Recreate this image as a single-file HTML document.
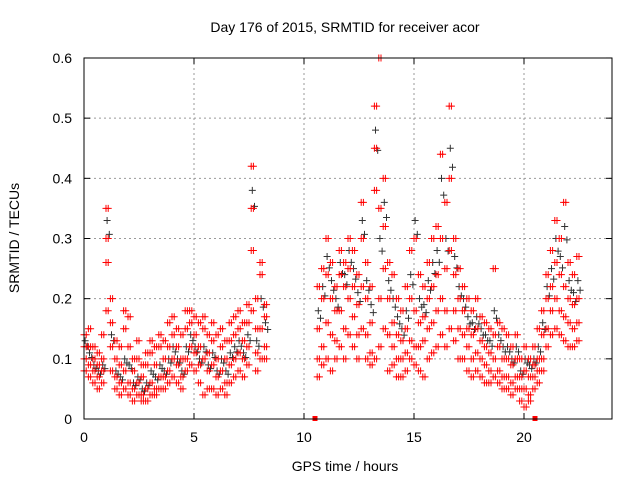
<!DOCTYPE html>
<html><head><meta charset="utf-8"><style>
body{margin:0;background:#fff;}
svg{display:block;font-family:"Liberation Sans",sans-serif;}
</style></head><body>
<svg id="chart" width="640" height="480" viewBox="0 0 640 480">
<rect width="640" height="480" fill="#fff"/>
<text x="345" y="32" font-size="14" text-anchor="middle">Day 176 of 2015, SRMTID for receiver acor</text>
<text x="345" y="471" font-size="14" text-anchor="middle">GPS time / hours</text>
<text x="19" y="238" font-size="14" text-anchor="middle" transform="rotate(-90 19 238)">SRMTID / TECUs</text>
<g id="grid"></g><g id="ticks"></g><g id="marks"></g>
<rect x="84" y="58" width="528" height="361" fill="none" stroke="#000" stroke-width="1"/>
</svg>
<script>
const xTicks=[0,5,10,15,20];
const yTicks=[0,0.1,0.2,0.3,0.4,0.5,0.6];
const yTickLabels=["0","0.1","0.2","0.3","0.4","0.5","0.6"];
const hours1Start=0, hours2Start=10.6, stepH=0.2;
const redA=[.14,.12,.10,.09,.10,.30,.20,.10,.09,.15,.12,.08,.10,.07,.09,.11,.09,.12,.10,.12,.14,.12,.10,.15,.16,.14,.12,.15,.11,.13,.10,.12,.10,.13,.14,.15,.13,.16,.35,.15,.26,.17,
 .22,.25,.30,.26,.22,.28,.26,.30,.28,.24,.36,.26,.22,.52,.60,.40,.26,.24,.20,.18,.22,.28,.30,.24,.22,.26,.30,.32,.44,.36,.52,.30,.25,.22,.20,.18,.20,.17,.16,.15,.25,.16,.15,.14,.12,.14,.10,.12,.10,.12,.15,.18,.24,.28,.33,.30,.36,.26,.24,.27];
const redB=[.10,.09,.08,.07,.08,.35,.12,.07,.06,.08,.06,.05,.06,.04,.05,.06,.05,.07,.07,.08,.10,.09,.07,.10,.12,.11,.09,.10,.08,.09,.07,.08,.06,.09,.10,.11,.10,.12,.42,.11,.15,.12,
 .15,.20,.24,.20,.18,.24,.22,.25,.22,.19,.30,.20,.16,.45,.35,.32,.20,.16,.14,.13,.15,.20,.18,.16,.17,.20,.22,.24,.30,.25,.40,.24,.20,.18,.15,.14,.15,.13,.12,.11,.14,.12,.10,.10,.09,.10,.07,.08,.07,.09,.10,.14,.20,.22,.26,.24,.22,.20,.19,.20];
const redC=[.08,.07,.06,.05,.06,.26,.08,.05,.04,.05,.04,.03,.04,.03,.03,.04,.04,.05,.05,.06,.07,.06,.05,.08,.09,.08,.06,.04,.05,.05,.04,.05,.04,.06,.07,.08,.07,.09,.28,.08,.10,.10,
 .10,.12,.16,.14,.13,.18,.15,.20,.17,.14,.22,.14,.11,.38,.20,.25,.14,.12,.10,.10,.11,.13,.12,.12,.13,.15,.16,.18,.20,.18,.28,.18,.15,.14,.12,.10,.11,.10,.09,.08,.10,.08,.07,.07,.06,.07,.05,.05,.04,.07,.08,.10,.15,.18,.20,.18,.17,.16,.15,.16];
const redD=[.12,.15,.12,.11,.14,.18,.16,.13,.12,.18,.17,.10,.13,.09,.11,.13,.12,.14,.13,.16,.17,.15,.14,.18,.18,.17,.16,.17,.14,.16,.14,.15,.13,.16,.17,.18,.16,.19,.18,.20,.24,.19,
 .07,.09,.10,.08,.10,.12,.10,.14,.12,.10,.15,.10,.09,.10,.12,.15,.08,.09,.07,.07,.08,.10,.09,.08,.07,.10,.11,.12,.14,.12,.15,.13,.10,.10,.08,.07,.08,.07,.06,.06,.07,.06,.05,.05,.04,.05,.03,.02,.03,.05,.06,.08,.12,.14,.15,.14,.13,.12,.12,.13];
const greyA=[.13,.11,.09,.08,.09,.33,.14,.08,.07,.10,.09,.06,.07,.05,.06,.08,.07,.09,.08,.10,.12,.10,.08,.12,.14,.12,.10,.12,.09,.11,.08,.10,.08,.11,.12,.13,.11,.14,.38,.13,.20,.16,
 .18,.22,.27,.23,.20,.26,.24,.28,.25,.21,.33,.23,.19,.48,.30,.36,.23,.20,.17,.15,.18,.24,.33,.20,.19,.23,.26,.28,.40,.30,.45,.27,.22,.20,.17,.16,.17,.15,.14,.13,.18,.14,.12,.12,.10,.12,.08,.10,.09,.10,.12,.16,.22,.25,.30,.27,.32,.23,.21,.23];
const gapMarkers=[10.5,20.5];

const X=h=>84+h*22, Y=v=>419-v*601.7;
const NS="http://www.w3.org/2000/svg";
const grid=document.getElementById('grid'),ticks=document.getElementById('ticks'),marks=document.getElementById('marks');
function mk(tag,attrs,parent){const e=document.createElementNS(NS,tag);for(const k in attrs)e.setAttribute(k,attrs[k]);parent.appendChild(e);return e;}
xTicks.forEach(t=>{
 if(t>0){const g=mk('line',{x1:X(t),x2:X(t),y1:58,y2:419,stroke:'#999','stroke-dasharray':'2,3'},grid);
 
 }
 mk('line',{x1:X(t),x2:X(t),y1:419,y2:413,stroke:'#000'},ticks);
 mk('line',{x1:X(t),x2:X(t),y1:58,y2:64,stroke:'#000'},ticks);
 const l=mk('text',{x:X(t),y:442,'font-size':14,'text-anchor':'middle'},ticks);l.textContent=t;
 
 
});
yTicks.forEach((t,i)=>{
 if(i>0&&i<yTicks.length-1){const g=mk('line',{x1:84,x2:612,y1:Y(t),y2:Y(t),stroke:'#999','stroke-dasharray':'2,3'},grid);
 
 }
 mk('line',{x1:84,x2:90,y1:Y(t),y2:Y(t),stroke:'#000'},ticks);
 mk('line',{x1:606,x2:612,y1:Y(t),y2:Y(t),stroke:'#000'},ticks);
 const l=mk('text',{x:72,y:Y(t)+5,'font-size':14,'text-anchor':'end'},ticks);l.textContent=yTickLabels[i];
 
 
});
function hourAt(i){return i<42?hours1Start+i*stepH:hours2Start+(i-42)*stepH;}
function plus(h,v,color,name){
 const x=X(h),y=Y(v);
 const p=mk('path',{d:`M${x-3.5},${y}h7M${x},${y-3.5}v7`,stroke:color,'stroke-width':1},marks);
 
 
}
greyA.forEach((v,i)=>{plus(hourAt(i)+0.05,v,'#333','grey-point');plus(hourAt(i)+0.15,v*0.93,'#333','grey-point');});
[redA,redB,redC,redD].forEach(arr=>arr.forEach((v,i)=>{
 plus(hourAt(i),v,'#f00','red-point');
 plus(hourAt(i)+0.1,v,'#f00','red-point');
}));
gapMarkers.forEach(h=>{const r=mk('rect',{x:X(h)-2.5,y:416,width:5,height:5,fill:'#f00'},marks);
 
 });
</script>
</body></html>
